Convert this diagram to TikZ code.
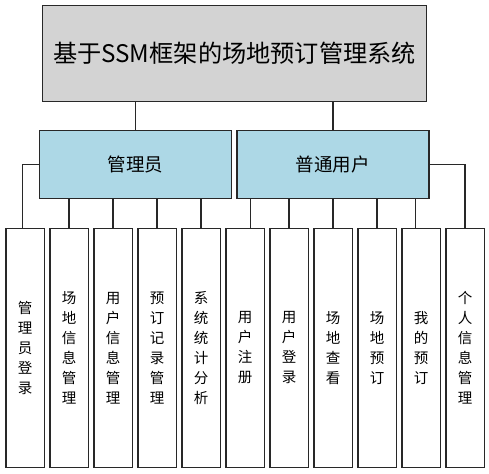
\documentclass[tikz,border=0pt]{standalone}
\usepackage{fontspec}
\newfontfamily\cjk{Noto Sans CJK SC}
\definecolor{titlegray}{RGB}{211,211,211}
\definecolor{midblue}{RGB}{173,216,230}
\definecolor{edgecol}{RGB}{40,40,40}
\begin{document}
\begin{tikzpicture}[x=1pt,y=-1pt,
  box/.style={draw=edgecol,line width=1.2pt,inner sep=0pt,anchor=north west},
  titlebox/.style={box,fill=titlegray,minimum width=384.3pt,minimum height=96pt,font=\cjk\fontsize{24.2}{28}\selectfont},
  rolebox/.style={box,fill=midblue,minimum width=192pt,minimum height=67.7pt,font=\cjk\fontsize{18.5}{22}\selectfont},
  leafbox/.style={box,fill=white,minimum width=38.3pt,minimum height=239pt,align=center,font=\cjk\fontsize{14.5}{20}\selectfont},
  link/.style={draw=edgecol,line width=1.2pt}]
\useasboundingbox (0,0) rectangle (489,473);
\node[titlebox] (title) at (41.7,4.7) {基于SSM框架的场地预订管理系统};
\node[rolebox] (admin) at (39,130) {管理员};
\node[rolebox] (user) at (236.3,130) {普通用户};
\foreach \t [count=\i] in {{管\\理\\员\\登\\录},{场\\地\\信\\息\\管\\理},{用\\户\\信\\息\\管\\理},{预\\订\\记\\录\\管\\理},{系\\统\\统\\计\\分\\析},{用\\户\\注\\册},{用\\户\\登\\录},{场\\地\\查\\看},{场\\地\\预\\订},{我\\的\\预\\订},{个\\人\\信\\息\\管\\理}}
  \node[leafbox] (b\i) at ({5.3+44*(\i-1)},227.7) {\t};
\draw[link] (title.south -| admin.north) -- (admin.north);
\draw[link] (title.south -| user.north) -- (user.north);
\draw[link] (admin.west) -| ([xshift=-2.2pt]b1.north);
\foreach \i in {2,...,5} \draw[link] (admin.south -| b\i.north) -- (b\i.north);
\draw[link] ([xshift=5.8pt]b6.north |- user.south) -- ([xshift=5.8pt]b6.north);
\foreach \i in {7,8,9} \draw[link] (user.south -| b\i.north) -- (b\i.north);
\draw[link] ([xshift=-5.2pt]b10.north |- user.south) -- ([xshift=-5.2pt]b10.north);
\draw[link] (user.east) -| (b11.north);
\end{tikzpicture}
\end{document}
